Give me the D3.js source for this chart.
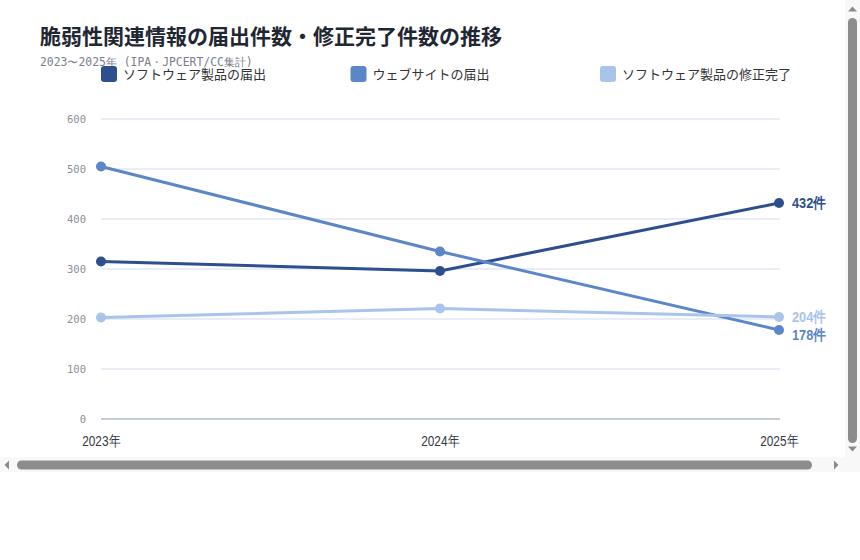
<!DOCTYPE html>
<html>
<head>
<meta charset="utf-8">
<script src="https://cdn.jsdelivr.net/npm/d3@7"></script>
<style>
  body { margin: 0; background: #fff; }
  #wrap { position: relative; width: 860px; height: 472px; overflow: hidden; }
  #chart, #bars { position: absolute; left: 0; top: 0; }
  .narrow { font-family: "Liberation Sans", sans-serif; }
</style>
</head>
<body>
<div id="wrap"><div id="chart"></div><div id="bars"></div></div>
<script>
// data
const years = ["2023年", "2024年", "2025年"];
const seriesNames = ["ソフトウェア製品の届出", "ウェブサイトの届出", "ソフトウェア製品の修正完了"];
const software = [315, 296, 432];
const website = [505, 335, 178];
const fixed = [203, 221, 204];
const yTicks = [0, 100, 200, 300, 400, 500, 600];
const colors = ["#2d4f8e", "#5b86c8", "#a9c4ea"];

const title = "脆弱性関連情報の届出件数・修正完了件数の推移";
const subtitle = "2023〜2025年 (IPA・JPCERT/CC集計)";

const width = 868;
const height = 470;
const margin = { top: 119, right: 88, bottom: 51, left: 101 };
const mono = "'DejaVu Sans Mono', monospace";
const sans = "'Noto Sans CJK JP', 'Noto Sans', sans-serif";

const svg = d3
  .select("#chart")
  .append("svg")
  .attr("width", width)
  .attr("height", height)
  .style("display", "block");

svg
  .append("text")
  .attr("x", 40)
  .attr("y", 44)
  .attr("font-family", sans)
  .attr("font-size", 21)
  .attr("font-weight", "bold")
  .attr("fill", "#1f2733")
  .text(title);

svg
  .append("text")
  .attr("x", 40)
  .attr("y", 66)
  .attr("font-family", mono)
  .attr("font-size", 11.4)
  .attr("fill", "#7a808a")
  .text(subtitle);

const x = d3
  .scalePoint()
  .domain(years)
  .range([margin.left, 779]);

const y = d3
  .scaleLinear()
  .domain([0, 600])
  .range([height - margin.bottom, margin.top]);

// grid
svg
  .selectAll(".grid")
  .data(yTicks)
  .enter()
  .append("line")
  .attr("class", "grid")
  .attr("x1", margin.left)
  .attr("x2", 780)
  .attr("y1", (d) => y(d))
  .attr("y2", (d) => y(d))
  .attr("stroke", (d) => (d === 0 ? "#c6cedb" : "#e9eef6"))
  .attr("stroke-width", 2);

// y axis labels
const yAxis = svg
  .append("g")
  .attr("transform", `translate(${margin.left - 12},0)`)
  .call(d3.axisLeft(y).tickValues(yTicks).tickSize(0).tickPadding(3));
yAxis.select(".domain").remove();
yAxis
  .selectAll("text")
  .attr("font-family", mono)
  .attr("font-size", 10.5)
  .attr("fill", "#8a8f98");

// x axis labels (squeezed sideways like the original's narrow face)
const xAxis = svg
  .append("g")
  .attr("transform", `translate(0,${y(0) + 16})`)
  .call(d3.axisBottom(x).tickSize(0).tickPadding(0));
xAxis.select(".domain").remove();
xAxis
  .selectAll("text")
  .attr("class", "narrow")
  .attr("font-size", 15)
  .attr("transform", "scale(0.79,1)")
  .attr("fill", "#333a44");

// lines
const series = [software, website, fixed];
const line = d3
  .line()
  .x((d, i) => x(years[i]))
  .y((d) => y(d));

series.forEach((vals, s) => {
  svg
    .append("path")
    .datum(vals)
    .attr("fill", "none")
    .attr("stroke", colors[s])
    .attr("stroke-width", 3)
    .attr("stroke-linejoin", "round")
    .attr("stroke-linecap", "round")
    .attr("d", line);

  svg
    .selectAll(".dot" + s)
    .data(vals)
    .enter()
    .append("circle")
    .attr("class", "dot" + s)
    .attr("cx", (d, i) => x(years[i]))
    .attr("cy", (d) => y(d))
    .attr("r", 5)
    .attr("fill", colors[s]);
});

// end labels, the lower one pushed down when they collide
const last = years.length - 1;
const ends = series
  .map((vals, s) => ({ s: s, v: vals[last], ly: y(vals[last]) }))
  .sort((a, b) => a.ly - b.ly);
for (let i = 1; i < ends.length; i++) {
  if (ends[i].ly - ends[i - 1].ly < 18) {
    ends[i].ly = ends[i - 1].ly + 18;
  }
}
svg
  .selectAll(".endlabel")
  .data(ends)
  .enter()
  .append("text")
  .attr("class", "endlabel narrow")
  .attr("transform", (d) => `translate(${x(years[last]) + 13},${d.ly}) scale(0.85,1)`)
  .attr("dy", "0.36em")
  .attr("font-size", 15)
  .attr("font-weight", "bold")
  .attr("fill", (d) => colors[d.s])
  .text((d) => d.v + "件");

// legend
const legend = svg
  .selectAll(".legend")
  .data(seriesNames)
  .enter()
  .append("g")
  .attr("class", "legend")
  .attr("transform", (d, i) => `translate(${101 + i * 249.5},66)`);
legend
  .append("rect")
  .attr("width", 16)
  .attr("height", 16)
  .attr("rx", 3)
  .attr("fill", (d, i) => colors[i]);
legend
  .append("text")
  .attr("x", 22)
  .attr("y", 13)
  .attr("font-family", sans)
  .attr("font-size", 13)
  .attr("fill", "#333")
  .text((d) => d);

// the chart sits in a box that scrolls, as in the original page
const bars = d3
  .select("#bars")
  .append("svg")
  .attr("width", 860)
  .attr("height", 472)
  .style("display", "block");
bars.append("rect").attr("x", 845).attr("y", 0).attr("width", 15).attr("height", 472).attr("fill", "#f8f8f8");
bars.append("rect").attr("x", 0).attr("y", 457).attr("width", 860).attr("height", 15).attr("fill", "#f8f8f8");
bars.append("rect").attr("x", 848).attr("y", 18).attr("width", 9).attr("height", 425).attr("rx", 4.5).attr("fill", "#8c8c8c");
bars.append("rect").attr("x", 17).attr("y", 460.5).attr("width", 795).attr("height", 9).attr("rx", 4.5).attr("fill", "#8c8c8c");
bars.append("path").attr("d", "M848,11.5L852.5,6.5L857,11.5Z").attr("fill", "#8a8a8a");
bars.append("path").attr("d", "M848,446.5L852.5,451.5L857,446.5Z").attr("fill", "#8a8a8a");
bars.append("path").attr("d", "M9,460.5L4.5,465L9,469.5Z").attr("fill", "#8a8a8a");
bars.append("path").attr("d", "M834,460.5L838.5,465L834,469.5Z").attr("fill", "#8a8a8a");
</script>
</body>
</html>
